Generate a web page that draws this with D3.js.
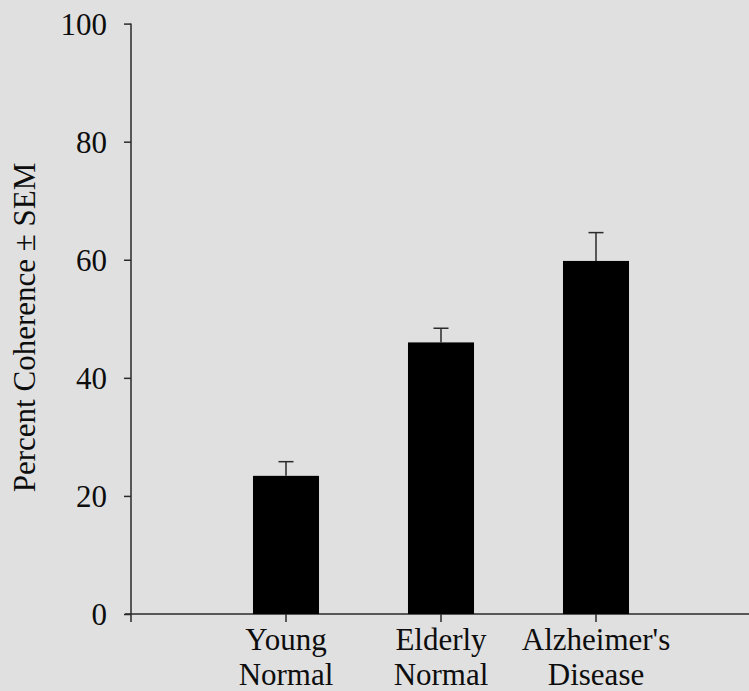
<!DOCTYPE html>
<html>
<head>
<meta charset="utf-8">
<script src="https://cdn.jsdelivr.net/npm/d3@7"></script>
<style>
  html, body { margin: 0; padding: 0; background: #e0e0e0; }
  svg { display: block; }
</style>
</head>
<body>
<svg id="chart" width="749" height="691"></svg>
<script>
// Group names (two lines each), mean coherence and SEM
const groups = ["Young Normal", "Elderly Normal", "Alzheimer's Disease"];
const groupLines = [["Young", "Normal"], ["Elderly", "Normal"], ["Alzheimer's", "Disease"]];
const meanCoherence = [23.4, 46.0, 59.8];
const sem = [2.4, 2.4, 4.8];
const yTicks = [0, 20, 40, 60, 80, 100];

const fontFamily = '"Liberation Serif"';
const textColor = "#0d0d0d";
const axisColor = "#2a2a2a";

const svg = d3.select("#chart");
const W = 749;
const axisX = 131, plotTop = 23.6, plotBottom = 614;

const y = d3.scaleLinear().domain([0, 100]).range([plotBottom, plotTop]);
const x = d3.scaleBand()
  .domain(groups)
  .range([208.5, 673.5])
  .paddingInner(0.574)
  .paddingOuter(0.287);

// Y axis
const yAxis = svg.append("g")
  .attr("transform", `translate(${axisX},0)`)
  .call(d3.axisLeft(y).tickValues(yTicks).tickSize(7).tickPadding(17).tickFormat(d3.format("d")));
yAxis.select(".domain").remove();
yAxis.append("line")
  .attr("x1", 0).attr("x2", 0)
  .attr("y1", y(100)).attr("y2", plotBottom + 8)
  .attr("stroke", axisColor).attr("stroke-width", 1.5);
yAxis.selectAll(".tick line").attr("stroke", axisColor).attr("stroke-width", 1.5);
yAxis.selectAll(".tick text")
  .style("font-family", fontFamily)
  .style("font-size", "31px")
  .attr("fill", textColor)
  .attr("dy", "0.34em");

// X axis baseline running to the right edge
svg.append("line")
  .attr("x1", axisX - 6).attr("x2", W)
  .attr("y1", plotBottom).attr("y2", plotBottom)
  .attr("stroke", axisColor).attr("stroke-width", 1.5);

// Bars
svg.append("g").selectAll("rect")
  .data(groups)
  .join("rect")
  .attr("x", d => x(d))
  .attr("width", x.bandwidth())
  .attr("y", (d, i) => y(meanCoherence[i]))
  .attr("height", (d, i) => plotBottom - y(meanCoherence[i]))
  .attr("fill", "#000");

// Upper error bars (mean + SEM)
const err = svg.append("g").attr("stroke", axisColor).attr("stroke-width", 1.5);
groups.forEach((g, i) => {
  const cx = x(g) + x.bandwidth() / 2;
  err.append("line")
    .attr("x1", cx).attr("x2", cx)
    .attr("y1", y(meanCoherence[i])).attr("y2", y(meanCoherence[i] + sem[i]));
  err.append("line")
    .attr("x1", cx - 7.5).attr("x2", cx + 7.5)
    .attr("y1", y(meanCoherence[i] + sem[i])).attr("y2", y(meanCoherence[i] + sem[i]));
});

// Category ticks and two-line labels
groups.forEach((g, i) => {
  const cx = x(g) + x.bandwidth() / 2;
  svg.append("line")
    .attr("x1", cx).attr("x2", cx)
    .attr("y1", plotBottom).attr("y2", plotBottom + 8)
    .attr("stroke", axisColor).attr("stroke-width", 1.5);
  const t = svg.append("text")
    .attr("text-anchor", "middle")
    .attr("fill", textColor)
    .style("font-family", fontFamily)
    .style("font-size", "31px");
  groupLines[i].forEach((line, j) => {
    t.append("tspan").attr("x", cx).attr("y", 650 + j * 35).text(line);
  });
});

// Y axis title
svg.append("text")
  .attr("transform", `translate(35,${(160 + 495) / 2}) rotate(-90)`)
  .attr("text-anchor", "middle")
  .attr("fill", textColor)
  .style("font-family", fontFamily)
  .style("font-size", "31px")
  .text("Percent Coherence ± SEM");
</script>
</body>
</html>
